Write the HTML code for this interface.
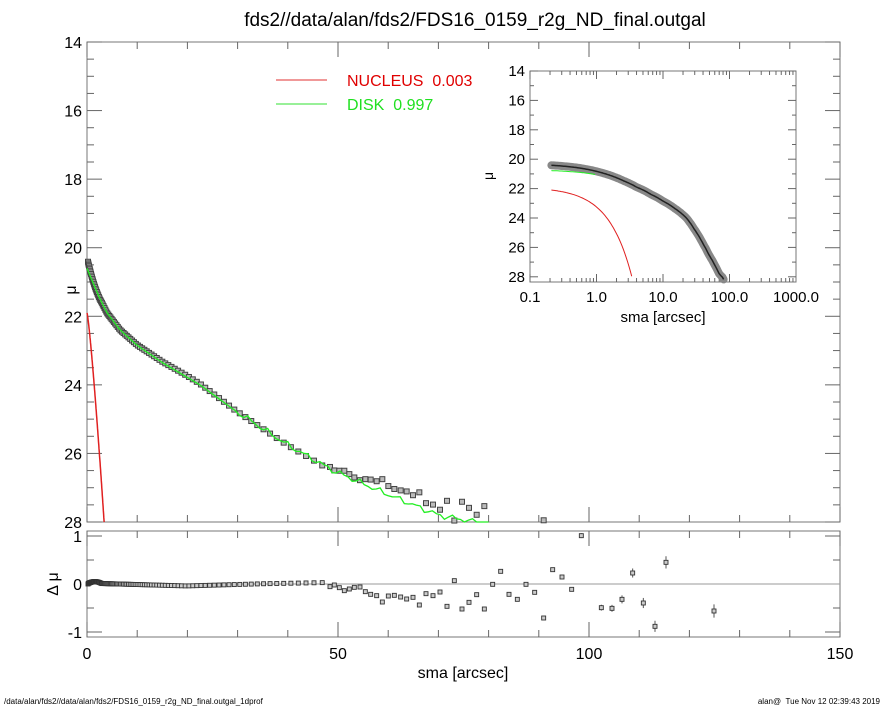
<!DOCTYPE html>
<html><head><meta charset="utf-8"><style>
html,body{margin:0;padding:0;background:#fff;}
svg{display:block;font-family:"Liberation Sans",Arial,sans-serif;}
</style></head><body>
<svg id="s" width="885" height="708" viewBox="0 0 885 708" xmlns="http://www.w3.org/2000/svg">
<text x="475" y="26" font-size="19" text-anchor="middle">fds2//data/alan/fds2/FDS16_0159_r2g_ND_final.outgal</text>
<line x1="276" y1="80" x2="327" y2="80" stroke="#e03030" stroke-width="1"/>
<text x="347" y="86" font-size="16" fill="#e00000">NUCLEUS&#160;&#160;0.003</text>
<line x1="276" y1="104" x2="327" y2="104" stroke="#30e030" stroke-width="1"/>
<text x="347" y="110" font-size="16" fill="#20e020">DISK&#160;&#160;0.997</text>
<text transform="translate(76,290) rotate(-90)" font-size="16" text-anchor="middle">μ</text>
<text transform="translate(58,584) rotate(-90)" font-size="16" text-anchor="middle">Δ μ</text>
<text x="463" y="678" font-size="16" text-anchor="middle">sma [arcsec]</text>
<text x="4" y="704" font-size="8">/data/alan/fds2//data/alan/fds2/FDS16_0159_r2g_ND_final.outgal_1dprof</text>
<text x="880" y="704" font-size="8" text-anchor="end">alan@&#160;&#160;Tue Nov 12 02:39:43 2019</text>
<text transform="translate(493,176) rotate(-90)" font-size="14" text-anchor="middle">μ</text>
<text x="663" y="322" font-size="15" text-anchor="middle">sma [arcsec]</text>
</svg>
<script>
var S=document.getElementById('s'),out='';
function L(x1,y1,x2,y2,c,w){out+='<line x1="'+x1+'" y1="'+y1+'" x2="'+x2+'" y2="'+y2+'" stroke="'+(c||'#666')+'" stroke-width="'+(w||1)+'"/>';}
function T(x,y,t,a,fs){out+='<text x="'+x+'" y="'+y+'" font-size="'+(fs||16)+'" text-anchor="'+(a||'middle')+'">'+t+'</text>';}
var X0=87,X1=840,Y0=42,Y1=522,RY0=531,RY1=637;
function mx(r){return X0+r*(X1-X0)/150;}
function my(m){return Y0+(m-14)*(Y1-Y0)/14;}
function ry(d){return 584-d*48;}
out+='<rect x="'+X0+'" y="'+Y0+'" width="'+(X1-X0)+'" height="'+(Y1-Y0)+'" fill="none" stroke="#777"/>';
out+='<rect x="'+X0+'" y="'+RY0+'" width="'+(X1-X0)+'" height="'+(RY1-RY0)+'" fill="none" stroke="#777"/>';
for(var v=0;v<=150;v+=10){var x=mx(v),big=v%50==0,l=big?15:7;
 L(x,Y1,x,Y1-l);L(x,Y0,x,Y0+l);L(x,RY1,x,RY1-l);L(x,RY0,x,RY0+l);
 if(big)T(x,659,v);}
for(var m=14;m<=28;m+=0.5){var y=my(m),big=m%2==0,l=big?15:7;
 L(X0,y,X0+l,y);L(X1,y,X1-l,y);if(big)T(82,y+6,m,'end');}
[-1,0,1].forEach(function(d){var y=ry(d);L(X0,y,X0+15,y);L(X1,y,X1-15,y);T(82,y+6,d,'end');});
[-0.5,0.5].forEach(function(d){var y=ry(d);L(X0,y,X0+7,y);L(X1,y,X1-7,y);});
L(X0,584,X1,584,'#999');
var dk=[[0,20.6],[1,20.95],[2.6,21.5],[4,21.9],[6.6,22.4],[10,22.85],[15,23.35],[22.5,24.0],[29.5,24.75],[40,25.75],[49,26.5],[60,27.2],[70,27.8],[79,28.05],[90,28.6],[130,31]];
function disk(r){for(var i=0;i<dk.length-1;i++)if(r<=dk[i+1][0]){var a=dk[i],b=dk[i+1];return a[1]+(b[1]-a[1])*(r-a[0])/(b[0]-a[0]);}return 31;}
function diskj(r){return disk(r)+(r>30?0.06*Math.sin(r*1.7)+0.04*Math.sin(r*3.1):0);}
function nuc(r){return 21.9+1.35*Math.pow(r,1.23);}
function tot(r){return -2.5*Math.log10(Math.pow(10,-0.4*disk(r))+Math.pow(10,-0.4*nuc(r)));}
var rp=[[0,185],[13,180],[28,188],[43,197],[58,192],[73,187],[90,186],[106,200],[122,208],[140,212],[157,231],[175,213],[193,211],[212,216],[230,222],[249,217],[268,240],[288,206],[309,212],[330,201],[351,244],[373,167],[396,252],[417,232],[440,209],[463,252],[488,178],[512,139],[537,208],[562,223],[588,178],[614,202],[641,279],[668,134],[696,156],[725,193],[754,32],[814,248],[846,250],[876,223],[908,144],[940,234],[975,304],[1008,112],[1152,258]];
var pts=[];
function rf(r){if(r<0.3)return -0.04+r*0.2;if(r<3)return 0.05*Math.sin(r*1.0);if(r<20)return 0.01-0.003*(r-3);if(r<35)return -0.04+0.003*(r-20);return 0.005+0.002*(r-35);}
for(var r=0.2;r<48;r=r*1.035+0.06)pts.push([r,rf(r),0.01]);
rp.forEach(function(p,i){var x=330+p[0]/3,y=525+p[1]/3;var r=(x-X0)*150/(X1-X0);pts.push([r,(584-y)/48,i<36?0.01:0.05+0.1*(i-36)/9]);});
pts.forEach(function(p){var m=tot(p[0])+p[1];if(m>28.02)return;var x=mx(p[0]),y=my(m);
 out+='<rect x="'+(x-2.5)+'" y="'+(y-2.5)+'" width="5" height="5" fill="#bbb" stroke="#444" stroke-width="1"/>';});
var d='';for(var r=0;r<=80;r+=0.8){var m=diskj(r);if(m>28)m=28;d+=(d?'L':'M')+mx(r).toFixed(1)+','+my(m).toFixed(1);}
out+='<path d="'+d+'" fill="none" stroke="#22ee22" stroke-width="1.3"/>';
d='';for(var r=0;r<=3.45;r+=0.05){var m=Math.min(nuc(r),28);d+=(d?'L':'M')+mx(r).toFixed(1)+','+my(m).toFixed(1);}
out+='<path d="'+d+'" fill="none" stroke="#e02020" stroke-width="1.5"/>';
pts.forEach(function(p){var x=mx(p[0]),y=ry(p[1]),e=p[2]*48;
 if(e>1)L(x,y-e,x,y+e,'#555',1);
 out+='<rect x="'+(x-2)+'" y="'+(y-2)+'" width="4" height="4" fill="#ccc" stroke="#333" stroke-width="0.9"/>';});
var IX0=530,IX1=796,IY0=71,IY1=282;
out+='<rect x="'+IX0+'" y="'+IY0+'" width="'+(IX1-IX0)+'" height="'+(IY1-IY0)+'" fill="#fff" stroke="#777"/>';
function ix(r){return IX0+(Math.log10(r)+1)*(IX1-IX0)/4;}
function iy(m){return IY0+(m-14)*14.7;}
for(var e=-1;e<3;e++)for(var k=1;k<10;k++){var x=ix(k*Math.pow(10,e)),l=k==1?8:4;L(x,IY1,x,IY1-l);L(x,IY0,x,IY0+l);}
['0.1','1.0','10.0','100.0','1000.0'].forEach(function(t,i){T(IX0+i*66.5,302,t,'middle',15);});
for(var m=14;m<=28;m+=1){var y=iy(m),big=m%2==0,l=big?8:4;L(IX0,y,IX0+l,y);L(IX1,y,IX1-l,y);if(big)T(525,y+5,m,'end',15);}
var gd='';
for(var r=0.21;r<90;r*=1.04){var m=tot(r);if(m>28.3)break;gd+=(gd?'L':'M')+ix(r).toFixed(1)+','+iy(m).toFixed(1);}
out+='<path d="'+gd+'" fill="none" stroke="#888" stroke-width="8" stroke-linecap="round"/>';
out+='<path d="'+gd+'" fill="none" stroke="#222" stroke-width="1.5"/>';
d='';for(var r=0.21;r<1.0;r*=1.05){var m=disk(r);d+=(d?'L':'M')+ix(r).toFixed(1)+','+(iy(m)+1.5).toFixed(1);}
out+='<path d="'+d+'" fill="none" stroke="#22ee22" stroke-width="1"/>';
d='';for(var r=0.21;r<3.6;r*=1.05){var m=nuc(r);if(m>28.3)break;d+=(d?'L':'M')+ix(r).toFixed(1)+','+iy(m).toFixed(1);}
out+='<path d="'+d+'" fill="none" stroke="#e02020" stroke-width="1"/>';
S.insertAdjacentHTML('afterbegin',out);
</script>
</body></html>
